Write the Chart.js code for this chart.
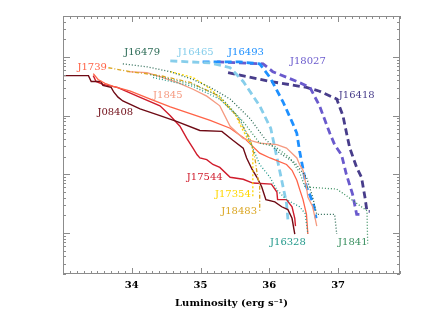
<!DOCTYPE html>
<html><head><meta charset="utf-8">
<script src="https://cdn.jsdelivr.net/npm/chart.js@4/dist/chart.umd.min.js"></script>
<style>html,body{margin:0;padding:0;background:#fff}#wrap{width:421px;height:310px}</style>
</head><body><div id="wrap"><canvas id="c" width="421" height="310"></canvas></div>
<script>
// ---- data (luminosity log10, cumulative number) ----
const X_TICKS = [34, 35, 36, 37];

const J08408_x = [33.00,33.37,33.41,33.55,33.58,33.70,33.74,33.80,33.87,34.12,34.41,34.66,34.99,35.31,35.47,35.62,35.67,35.75,35.82,35.89,35.95,36.08,36.18,36.27,36.33,36.37];
const J08408_y = [482,482,383,383,329,304,251,207,178,131,100,79,56,54,38,28,19,12.1,8.9,6.1,3.7,3.4,2.8,2.5,1.78,0.96];

const J17544_x = [33.44,33.48,33.58,33.79,34.08,34.41,34.56,34.70,34.80,34.89,34.95,34.99,35.09,35.18,35.28,35.43,35.62,35.76,36.03,36.11,36.12,36.25,36.33,36.37,36.38];
const J17544_y = [482,383,341,304,215,147,100,66,41,28,21.5,19,17.8,14.7,13.1,8.9,8.25,7.1,6.8,5.0,3.7,3.7,2.8,1.78,1.31];

const J1739_x = [33.44,33.51,33.61,33.73,33.98,34.27,34.56,34.85,35.14,35.43,35.64,35.86,36.01,36.25,36.33,36.40,36.44,36.49,36.54,36.56];
const J1739_y = [521,414,355,316,261,192,141,108,83,61,41,23,19,14.7,11.7,7.9,5.6,3.7,2.07,0.96];

const J1845_x = [33.93,34.22,34.41,34.66,34.89,35.09,35.28,35.43,35.62,35.86,36.11,36.25,36.40,36.44,36.49,36.54,36.56,36.63,36.66,36.69];
const J1845_y = [562,541,464,369,282,215,147,66,41,34,32,28,19,14.7,11.7,6.1,4.1,2.8,1.92,1.31];

const J16465_x = [34.56,35.14,35.43,35.62,35.86,36.02,36.12,36.18,36.25,36.27];
const J16465_y = [858,794,656,383,147,61,17.1,7.9,3.2,1.71];

const J16493_x = [35.03,35.57,35.86,36.01,36.20,36.34,36.40,36.44,36.54,36.64,36.68];
const J16493_y = [826,826,764,447,171,74,50,25,6.1,3.2,1.78];

const J18027_x = [35.24,35.91,36.05,36.40,36.59,36.73,36.88,36.95,37.05,37.12,37.21,37.27,37.36];
const J18027_y = [826,764,562,383,304,147,50,32,21.5,10,4.6,2.07,2.07];

const J16418_x = [35.40,36.01,36.54,36.73,36.98,37.07,37.13,37.17,37.27,37.34,37.39,37.42,37.46];
const J16418_y = [541,383,304,261,192,100,46,28,13.1,8.9,4.1,2.33,2.33];

const J18483_x = [33.66,33.98,34.41,34.85,35.21,35.50,35.72,35.79,35.83,35.86,35.86];
const J18483_y = [656,562,482,369,233,108,41,19,8.9,6.8,2.24];

const J17354_x = [34.56,34.89,35.09,35.28,35.50,35.60,35.72,35.76,35.76];
const J17354_y = [562,447,316,207,108,61,34,28,4.1];

const J16479_x = [33.87,34.22,34.56,34.89,35.14,35.43,35.72,35.93,36.15,36.37,36.54,36.63,36.69,36.95,36.98];
const J16479_y = [764,681,562,414,304,192,89,41,23,15.8,8.9,4.1,2.07,2.07,0.96];

const J1841_x = [34.27,34.89,35.28,35.64,35.86,36.08,36.30,36.44,36.52,36.98,37.10,37.27,37.42,37.43];
const J1841_y = [501,341,215,74,34,30,19,10.8,6.1,5.6,4.5,3.2,2.4,0.66];

const J16328_x = [34.31,34.89,35.28,35.57,35.76,35.86,36.01,36.11,36.25,36.44,36.52,36.56];
const J16328_y = [447,316,192,89,28,14.7,8.9,5.4,3.7,2.8,2.15,0.96];

// label text and anchor (data units)
const LABEL_TEXT = ['J16479','J16465','J16493','J18027','J16418','J1739','J1845','J08408','J17544','J17354','J18483','J16328','J1841'];
const LABEL_X = [33.89,34.67,35.40,36.30,37.01,33.21,34.31,33.50,34.80,35.21,35.30,36.01,37.00];
const LABEL_Y = [1211,1211,1211,826,224,656,224,112,8.9,4.6,2.33,0.68,0.68];

// ---- styling ----
const COL = {
  J16479:'#2b6a55', J16465:'#87ceeb', J16493:'#1e90ff', J18027:'#6a5acd', J16418:'#483d8b',
  J1739:'#ff6347', J1845:'#f59a80', J08408:'#6e0a14', J17544:'#d01c2c', J17354:'#ffd700',
  J18483:'#daa520', J16328:'#23998b', J1841:'#3a9060'
};
const DOT = [1,2], DASH = [7,4], DASHDOT = [4,2,1,2];
function pts(xs, ys){ return xs.map((x,i)=>({x:x, y:ys[i]})); }
function ds(name, xs, ys, dash, width){
  return {label:name, data:pts(xs,ys), borderColor:COL[name], backgroundColor:COL[name],
          borderDash:dash, borderWidth:width, showLine:true, pointRadius:0, fill:false, tension:0};
}
const datasets = [
  ds('J16479', J16479_x, J16479_y, DOT, 1.3),
  ds('J16328', J16328_x, J16328_y, DOT, 1.3),
  ds('J1841', J1841_x, J1841_y, DOT, 1.3),
  ds('J18483', J18483_x, J18483_y, DASHDOT, 1.3),
  ds('J17354', J17354_x, J17354_y, [2,2], 1.3),
  ds('J1845', J1845_x, J1845_y, [], 1.3),
  ds('J1739', J1739_x, J1739_y, [], 1.3),
  ds('J08408', J08408_x, J08408_y, [], 1.4),
  ds('J17544', J17544_x, J17544_y, [], 1.4),
  ds('J16465', J16465_x, J16465_y, DASH, 2.8),
  ds('J16493', J16493_x, J16493_y, DASH, 2.8),
  ds('J18027', J18027_x, J18027_y, DASH, 2.8),
  ds('J16418', J16418_x, J16418_y, DASH, 2.8)
];

const frameTicks = {
  id:'frameTicks',
  afterDraw(chart){
    const {ctx, chartArea:a, scales:{x, y}} = chart;
    ctx.save();
    ctx.strokeStyle = '#8c8c8c'; ctx.lineWidth = 1;
    ctx.strokeRect(a.left+0.5, a.top+0.5, a.right-a.left-1, a.bottom-a.top-1);
    ctx.beginPath();
    // x ticks every 0.1
    for (let k = 331; k <= 379; k++) {
      const v = k/10, px = Math.round(x.getPixelForValue(v))+0.5;
      const len = (k % 10 === 0) ? 6 : 3;
      ctx.moveTo(px, a.bottom); ctx.lineTo(px, a.bottom-len);
      ctx.moveTo(px, a.top); ctx.lineTo(px, a.top+len);
    }
    // y log ticks
    for (let e = -1; e <= 3; e++) {
      for (let m = 1; m <= 9; m++) {
        const v = m*Math.pow(10,e);
        if (v < y.min || v > y.max) continue;
        const py = Math.round(y.getPixelForValue(v))+0.5;
        const len = (m === 1) ? 7 : 3;
        ctx.moveTo(a.left, py); ctx.lineTo(a.left+len, py);
        ctx.moveTo(a.right, py); ctx.lineTo(a.right-len, py);
      }
    }
    ctx.stroke();
    // labels
    ctx.font = '10px "DejaVu Serif"';
    ctx.textBaseline = 'middle'; ctx.textAlign = 'left';
    LABEL_TEXT.forEach((t,i)=>{
      ctx.fillStyle = COL[t];
      ctx.fillText(t, x.getPixelForValue(LABEL_X[i]), y.getPixelForValue(LABEL_Y[i]));
    });
    ctx.restore();
  }
};

new Chart(document.getElementById('c'), {
  type:'scatter',
  data:{datasets},
  options:{
    responsive:false, animation:false, devicePixelRatio:1,
    layout:{padding:{left:63, right:21, top:16, bottom:1}},
    plugins:{legend:{display:false}, tooltip:{enabled:false}},
    scales:{
      x:{type:'linear', min:33, max:37.9,
         grid:{display:false, drawTicks:false}, border:{display:false},
         afterBuildTicks:(s)=>{ s.ticks = X_TICKS.map(v=>({value:v})); },
         ticks:{color:'#000', padding:5, maxRotation:0, font:{family:'DejaVu Serif', weight:'bold', size:10}},
         title:{display:true, text:'Luminosity (erg s⁻¹)', color:'#000', padding:{top:1,bottom:0},
                font:{family:'DejaVu Serif', weight:'bold', size:10}}},
      y:{type:'logarithmic', min:0.2, max:5000, display:false}
    }
  },
  plugins:[frameTicks]
});
</script></body></html>
